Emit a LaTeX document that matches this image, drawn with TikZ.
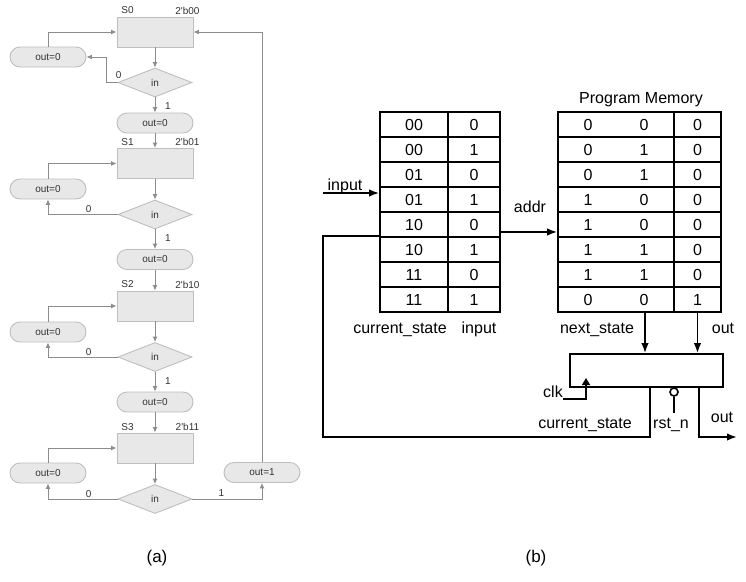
\documentclass[tikz,border=0pt]{standalone}
\usepackage{fontspec}
\setmainfont{Liberation Sans}
\usepackage{tikz}
\usetikzlibrary{
  arrows.meta,
  shapes.geometric,
  positioning,
  calc
}
\definecolor{fcFill}{HTML}{E8E8E8}
\definecolor{fcLine}{HTML}{BEBEBE}
\definecolor{fcArrow}{HTML}{8C8C8C}
\definecolor{fcText}{HTML}{333333}
\newcommand{\fcfont}{\fontsize{10}{12}\selectfont}
\newcommand{\hwfont}{\fontsize{16}{19}\selectfont}
\newcommand{\capfont}{\fontsize{17}{20}\selectfont}
\tikzset{
  fcnode/.style={
    draw=fcLine, fill=fcFill, line width=0.9pt, text=fcText,
    font=\fcfont, inner sep=0pt
  },
  statebox/.style={fcnode, minimum width=76pt, minimum height=30pt},
  decision/.style={fcnode, diamond, minimum width=74pt, minimum height=29pt},
  outpill/.style={fcnode, rounded corners=10pt, minimum width=76pt, minimum height=20pt},
  fclabel/.style={text=fcText, font=\fcfont, inner sep=0pt},
  fcarrow/.style={-{Latex[length=5.5pt,width=5pt]}, draw=fcArrow, line width=1pt},
  cell/.style={draw, line width=1.8pt, minimum height=25pt, inner sep=0pt, font=\hwfont},
  sig/.style={line width=1.7pt},
  sigarrow/.style={sig, -{Latex[length=10pt,width=7.5pt]}},
  hwlabel/.style={font=\hwfont, inner sep=0pt, anchor=base},
  regbox/.style={draw, line width=1.8pt, minimum width=153pt, minimum height=33pt},
  caption/.style={font=\capfont, inner sep=0pt, anchor=base}
}

\begin{document}
\begin{tikzpicture}[x=1pt, y=-1pt]
  \useasboundingbox (0,0) rectangle (746,581);
  \fill[white] (0,0) rectangle (746,581);

  % (a) state flow
  \foreach \i/\sy/\dy/\ly/\code in {0/32/82.5/57/00, 1/163.5/214.5/189/01,
      2/306/357/332/10, 3/448/499/473/11}{
    \node[statebox] (s\i) at (155,\sy) {};
    \node[fclabel] (sn\i) at ($(s\i.north west)+(11,-6)$) {S\i};
    \node[fclabel] (sc\i) at ($(s\i.north east)+(-6,-6)$) {2\textquotesingle b\code};
    \node[decision] (d\i) at (155,\dy) {in};
    \node[outpill] (l\i) at (48,\ly) {out=0};
    \draw[fcarrow] (s\i) -- (d\i);
    \draw[fcarrow] (l\i.north) |- (s\i.west);
  }
  \foreach \i/\py in {0/123, 1/259.5, 2/402}{
    \pgfmathtruncatemacro\nxt{\i+1}
    \node[outpill] (p\i) at (155,\py) {out=0};
    \node[fclabel] (one\i) at ($(d\i.south)+(13,9)$) {1};
    \draw[fcarrow] (d\i) -- (p\i);
    \draw[fcarrow] (p\i) -- (s\nxt);
  }
  \draw[fcarrow] (d0.west) -- ++(-11,0) |- (l0.east);
  \node[fclabel] (zero0) at ($(d0.west)+(1,-7)$) {0};
  \foreach \i in {1,2,3}{
    \draw[fcarrow] (d\i.west) -| (l\i.south);
    \node[fclabel] (zero\i) at ($(d\i.west)+(-29,-5)$) {0};
  }
  \node[outpill] (p3) at (262,472.5) {out=1};
  \node[fclabel] (one3) at ($(d3.east)+(29,-6)$) {1};
  \draw[fcarrow] (d3.east) -| (p3.south);
  \draw[fcarrow] (p3.north) |- (s0.east);

  % (b) lookup table and memory
  \foreach \cs/\iv [count=\r] in {00/0, 00/1, 01/0, 01/1, 10/0, 10/1, 11/0, 11/1}{
    \node[cell, minimum width=68pt] (cs\r) at (414,99.5+25*\r) {\cs};
    \node[cell, minimum width=52pt] (in\r) at (474,99.5+25*\r) {\iv};
  }
  \foreach \na/\nb/\ov [count=\r] in {0/0/0, 0/1/0, 0/1/0, 1/0/0, 1/0/0, 1/1/0, 1/1/0, 0/0/1}{
    \node[cell, minimum width=116pt] (pmA\r) at (616,99.5+25*\r)
      {\makebox[56pt]{\na}\makebox[56pt]{\nb}};
    \node[cell, minimum width=47pt] (pmB\r) at (697.5,99.5+25*\r) {\ov};
  }
  \node[hwlabel] (pmtitle) at (641,103) {Program Memory};
  \node[hwlabel] (csname) at (400,333) {current\_state};
  \node[hwlabel] (inname) at (479,333) {input};
  \node[hwlabel] (nsname) at (597,333) {next\_state};
  \node[hwlabel] (outname) at (723,333) {out};

  \coordinate (inS) at (323,193);
  \node[hwlabel] (inlbl) at (345,190) {input};
  \draw[sigarrow] (inS) -- (inS -| cs4.west);
  \coordinate (addrS) at (in5.east |- 0,232);
  \node[hwlabel] (addrlbl) at (530,212) {addr};
  \draw[sigarrow] (addrS) -- (addrS -| pmA5.west);

  % state register
  \node[regbox] (reg) at (646.5,370.5) {};
  \coordinate (nsT) at (645,312);
  \draw[sigarrow] (nsT) -- (nsT |- reg.north);
  \draw[sigarrow] (pmB8.south) -- (pmB8.south |- reg.north);

  \coordinate (clkS) at (563,399);
  \coordinate (clkT) at (586,378);
  \node[hwlabel] (clklbl) at (553,397) {clk};
  \draw[sig, -{Triangle[length=7pt,width=8pt]}] (clkS) -| (clkT);

  \node[draw, circle, line width=1.6pt, minimum size=8pt, inner sep=0pt] (rst) at (674,392) {};
  \coordinate (rstS) at (674,413);
  \draw[sig] (rst.south) -- (rstS);
  \node[hwlabel] (rstlbl) at (671,428) {rst\_n};

  \coordinate (fbS) at (reg.south -| 650,0);
  \coordinate (fbL) at (323,437);
  \draw[sig] (fbS) |- (fbL) |- (cs6.north west);
  \node[hwlabel] (fblbl) at (585,428) {current\_state};

  \coordinate (outS) at (reg.south -| 699,0);
  \coordinate (outE) at (737,437);
  \draw[sigarrow] (outS) |- (outE);
  \node[hwlabel] (outlbl) at (722,422) {out};

  \node[caption] (capa) at (157,562) {(a)};
  \node[caption] (capb) at (536,562) {(b)};
\end{tikzpicture}
\end{document}
